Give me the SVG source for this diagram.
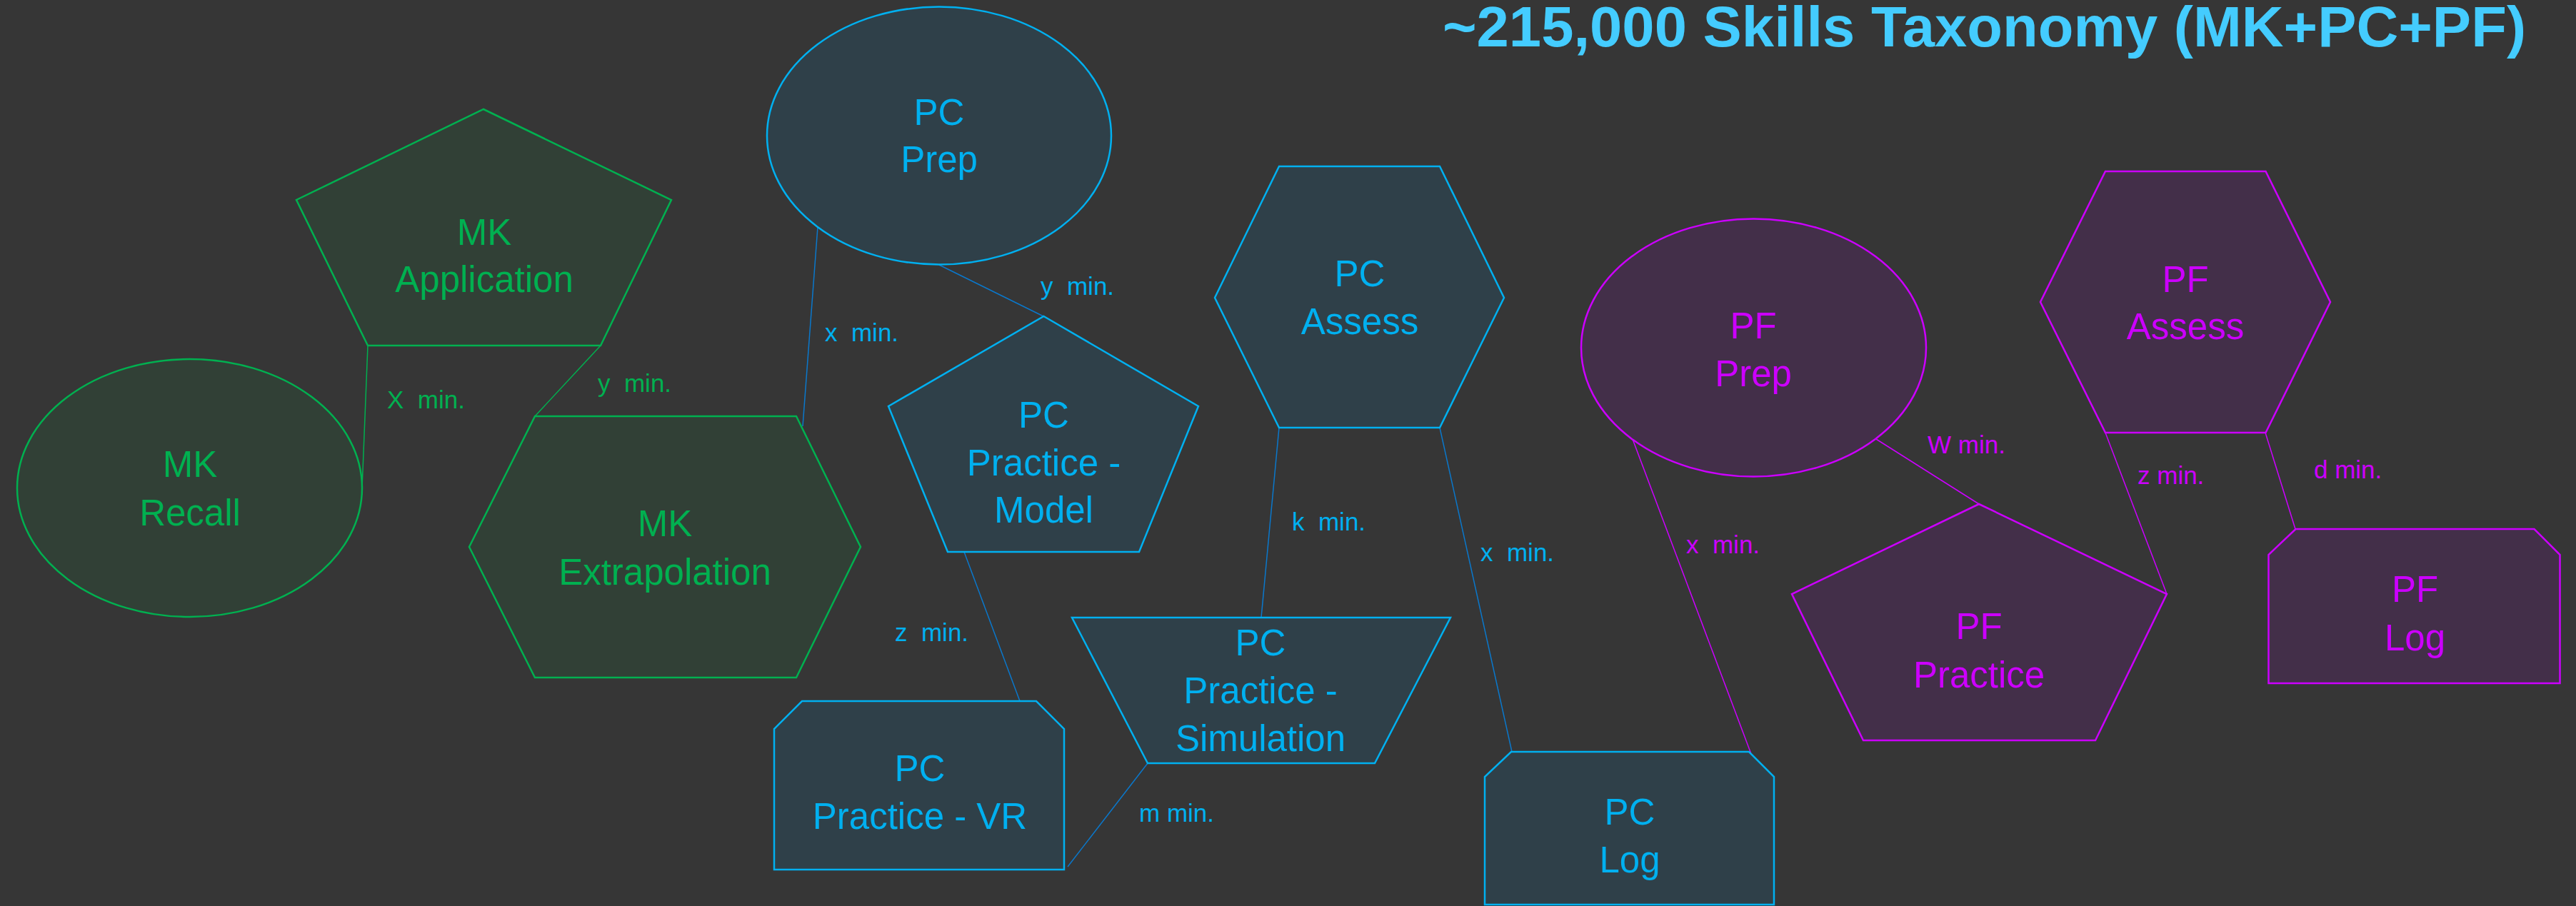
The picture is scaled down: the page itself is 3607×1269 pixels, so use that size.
<svg xmlns="http://www.w3.org/2000/svg" width="3607" height="1269" viewBox="0 0 3607 1269">
  <style>
    text { font-family: "Liberation Sans", Arial, sans-serif; white-space: pre; }
    .node-mk { fill: #314036; stroke: #00b050; stroke-width: 2.5; }
    .node-pc { fill: #2f4049; stroke: #00b0f0; stroke-width: 2.5; }
    .node-pf { fill: #432f49; stroke: #cc00ff; stroke-width: 2.5; }
    .lbl { font-size: 51px; text-anchor: middle; }
    .mk { fill: #00b050; }
    .pc { fill: #00b0f0; }
    .pf { fill: #cc00ff; }
    .edge { font-size: 35px; }
    .c-mk { stroke: #00b050; stroke-width: 1.5; fill: none; }
    .c-pc { stroke: #0a78cc; stroke-width: 1.5; fill: none; }
    .c-pf { stroke: #cc00ff; stroke-width: 1.5; fill: none; }
  </style>

  <rect x="0" y="0" width="3607" height="1269" fill="#363636"/>

  <!-- heading -->
  <text x="2020" y="65" font-size="80" font-weight="bold" fill="#44ccff" textLength="1517" lengthAdjust="spacingAndGlyphs">~215,000 Skills Taxonomy (MK+PC+PF)</text>

  <!-- connectors -->
  <g id="connectors">
    <line class="c-mk" x1="515" y1="484" x2="507" y2="684"/>
    <line class="c-mk" x1="841" y1="484" x2="749" y2="583"/>
    <line class="c-pc" x1="1145" y1="318" x2="1124" y2="597"/>
    <line class="c-pc" x1="1315" y1="371" x2="1461" y2="443"/>
    <line class="c-pc" x1="1350" y1="773" x2="1428" y2="982"/>
    <line class="c-pc" x1="1791" y1="599" x2="1766" y2="865"/>
    <line class="c-pc" x1="2016" y1="599" x2="2117" y2="1053"/>
    <line class="c-pc" x1="1607" y1="1069" x2="1495" y2="1214"/>
    <line class="c-pf" x1="2286" y1="615" x2="2452" y2="1056"/>
    <line class="c-pf" x1="2627" y1="615" x2="2771" y2="706"/>
    <line class="c-pf" x1="2948" y1="606" x2="3034" y2="832"/>
    <line class="c-pf" x1="3172" y1="606" x2="3214" y2="741"/>

    <text class="edge mk" x="542" y="572">X  min.</text>
    <text class="edge mk" x="837" y="549">y  min.</text>
    <text class="edge pc" x="1155" y="478">x  min.</text>
    <text class="edge pc" x="1457" y="413">y  min.</text>
    <text class="edge pc" x="1253" y="898">z  min.</text>
    <text class="edge pc" x="1809" y="743">k  min.</text>
    <text class="edge pc" x="2073" y="786">x  min.</text>
    <text class="edge pc" x="1595" y="1151">m min.</text>
    <text class="edge pf" x="2361" y="775">x  min.</text>
    <text class="edge pf" x="2699" y="635">W min.</text>
    <text class="edge pf" x="2993" y="678">z min.</text>
    <text class="edge pf" x="3240" y="670">d min.</text>
  </g>

  <!-- MK nodes -->
  <g id="mk-application">
    <polygon class="node-mk" points="677,153 940,280 841,484 515,484 415,280"/>
    <text class="lbl mk" x="678" y="343">MK</text>
    <text class="lbl mk" x="678" y="409">Application</text>
  </g>
  <g id="mk-recall">
    <ellipse class="node-mk" cx="265.5" cy="683.5" rx="241.5" ry="180.5"/>
    <text class="lbl mk" x="266" y="668">MK</text>
    <text class="lbl mk" x="266" y="736">Recall</text>
  </g>
  <g id="mk-extrapolation">
    <polygon class="node-mk" points="749,583 1115,583 1205,766 1115,949 749,949 657,766"/>
    <text class="lbl mk" x="931" y="751">MK</text>
    <text class="lbl mk" x="931" y="819">Extrapolation</text>
  </g>

  <!-- PC nodes -->
  <g id="pc-prep">
    <ellipse class="node-pc" cx="1315" cy="190" rx="241" ry="180.5"/>
    <text class="lbl pc" x="1315" y="175">PC</text>
    <text class="lbl pc" x="1315" y="241">Prep</text>
  </g>
  <g id="pc-practice-model">
    <polygon class="node-pc" points="1461.5,443 1678,569 1595,773 1327,773 1244,569"/>
    <text class="lbl pc" x="1461.5" y="599">PC</text>
    <text class="lbl pc" x="1461.5" y="666">Practice -</text>
    <text class="lbl pc" x="1461.5" y="732">Model</text>
  </g>
  <g id="pc-assess">
    <polygon class="node-pc" points="1791,233 2016,233 2106,417 2016,599 1791,599 1701,417"/>
    <text class="lbl pc" x="1904" y="401">PC</text>
    <text class="lbl pc" x="1904" y="468">Assess</text>
  </g>
  <g id="pc-practice-simulation">
    <polygon class="node-pc" points="1501,865 2031,865 1925,1069 1607,1069"/>
    <text class="lbl pc" x="1765" y="918">PC</text>
    <text class="lbl pc" x="1765" y="985">Practice -</text>
    <text class="lbl pc" x="1765" y="1052">Simulation</text>
  </g>
  <g id="pc-practice-vr">
    <polygon class="node-pc" points="1123,982 1451,982 1490,1021 1490,1218 1084,1218 1084,1021"/>
    <text class="lbl pc" x="1288" y="1094">PC</text>
    <text class="lbl pc" x="1288" y="1161">Practice - VR</text>
  </g>
  <g id="pc-log">
    <polygon class="node-pc" points="2116,1053 2449,1053 2484,1088 2484,1267 2079,1267 2079,1088"/>
    <text class="lbl pc" x="2282" y="1155">PC</text>
    <text class="lbl pc" x="2282" y="1222">Log</text>
  </g>

  <!-- PF nodes -->
  <g id="pf-prep">
    <ellipse class="node-pf" cx="2455.5" cy="487" rx="241.5" ry="180.5"/>
    <text class="lbl pf" x="2455" y="474">PF</text>
    <text class="lbl pf" x="2455" y="541">Prep</text>
  </g>
  <g id="pf-practice">
    <polygon class="node-pf" points="2771,706 3034,832 2934,1037 2609,1037 2509,832"/>
    <text class="lbl pf" x="2771" y="895">PF</text>
    <text class="lbl pf" x="2771" y="963">Practice</text>
  </g>
  <g id="pf-assess">
    <polygon class="node-pf" points="2948,240 3172.5,240 3263,423 3172.5,606 2948,606 2857,423"/>
    <text class="lbl pf" x="3060" y="409">PF</text>
    <text class="lbl pf" x="3060" y="475">Assess</text>
  </g>
  <g id="pf-log">
    <polygon class="node-pf" points="3214.5,741 3548.5,741 3584.5,777 3584.5,957 3176.5,957 3176.5,777"/>
    <text class="lbl pf" x="3381.5" y="843">PF</text>
    <text class="lbl pf" x="3381.5" y="911">Log</text>
  </g>
</svg>
